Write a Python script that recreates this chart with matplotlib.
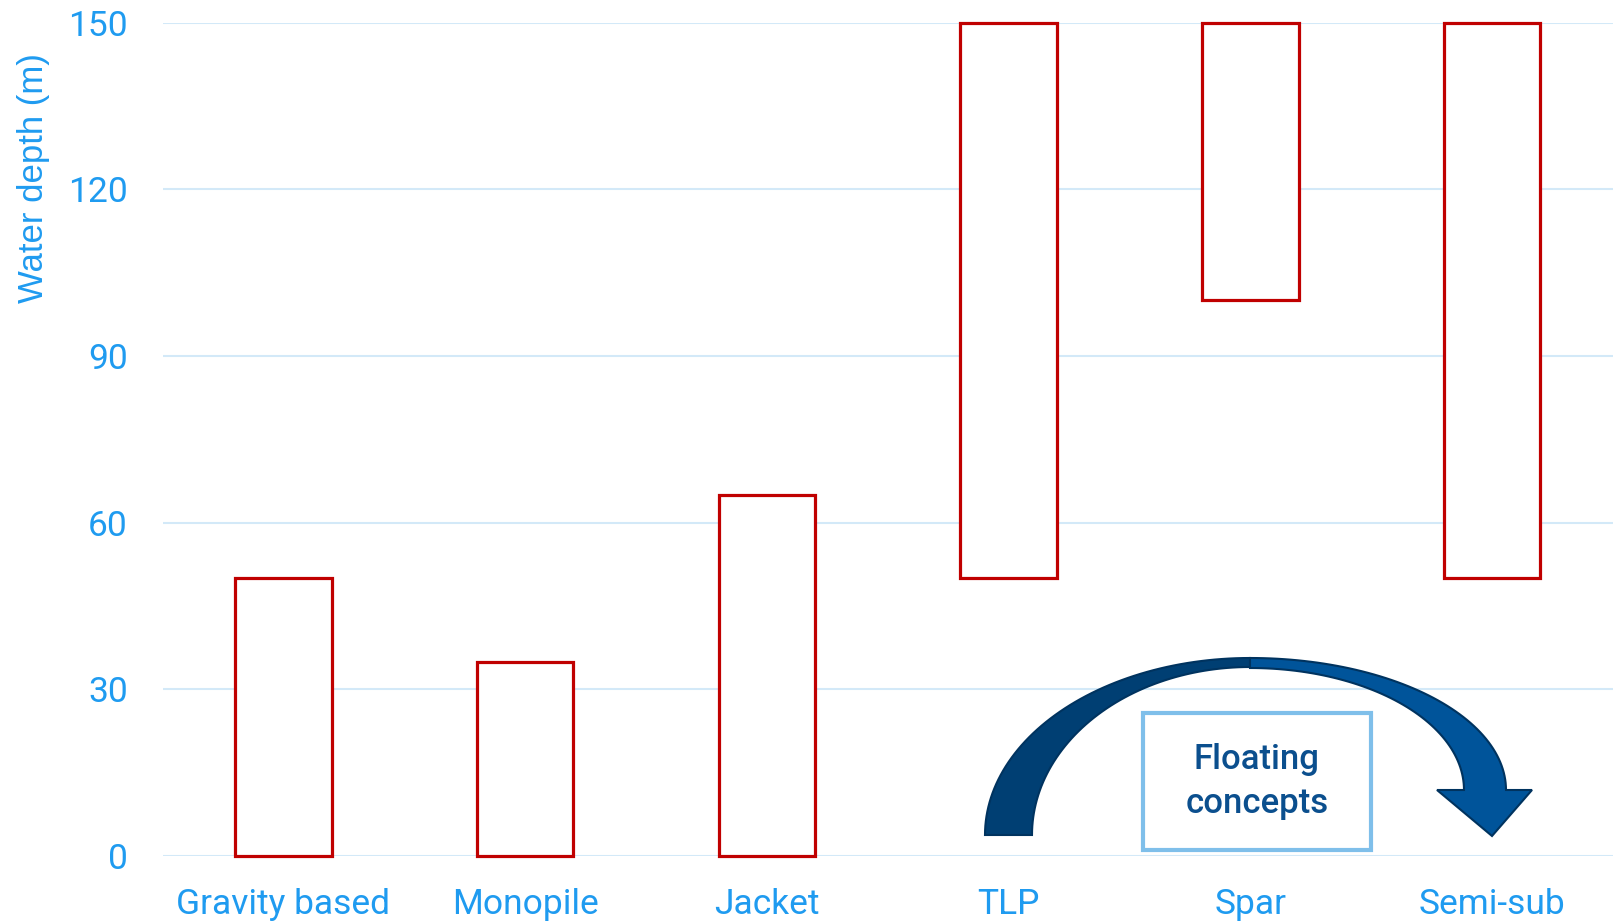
import numpy as np
import matplotlib.pyplot as plt
from matplotlib.patches import Polygon, Rectangle

concepts = ["Gravity based", "Monopile", "Jacket", "TLP", "Spar", "Semi-sub"]
depth_min = [0, 0, 0, 50, 100, 50]
depth_max = [50, 35, 65, 150, 150, 150]
yticks = [0, 30, 60, 90, 120, 150]

W, H = 1613, 922
fig = plt.figure(figsize=(W / 100, H / 100), dpi=100)
ax = fig.add_axes([162.5 / W, 1 - 856 / H, 1 - 162.5 / W, (856 - 22.6) / H])

blue = "#1F9BF0"
x = np.arange(len(concepts))
heights = np.array(depth_max) - np.array(depth_min)
ax.bar(x, heights, bottom=depth_min, width=0.40, facecolor="white",
       edgecolor="#C00000", linewidth=2.3, zorder=3, clip_on=False)

ax.set_xlim(-0.5, len(concepts) - 0.5)
ax.set_ylim(0, 150)
ax.set_yticks(yticks)
ax.set_xticks(x)
ax.set_xticklabels(concepts)
ax.grid(axis="y", color="#D3E9F8", linewidth=1.5, zorder=0)
ax.set_axisbelow(True)
for s in ax.spines.values():
    s.set_visible(False)
ax.tick_params(length=0, labelsize=25.5, labelcolor=blue)
ax.tick_params(axis="x", pad=23)
ax.tick_params(axis="y", pad=25)
for lab in ax.get_xticklabels() + ax.get_yticklabels():
    lab.set_fontfamily("Roboto")
ax.set_ylabel("Water depth (m)", fontsize=25, color=blue,
              fontfamily="Liberation Sans")
ax.yaxis.set_label_coords(-0.0775, 0.813)


# curved arrow, drawn in figure pixel space
def arc(cx, cy, a, b, t0, t1, n=60):
    t = np.linspace(t0, t1, n)
    return np.column_stack([cx + a * np.cos(t), cy - b * np.sin(t)])


left_out = arc(1250, 835, 265, 177, np.pi, np.pi / 2)
left_in = arc(1250, 835, 218, 168, np.pi / 2, np.pi)
right_out = arc(1250, 790, 256, 132, np.pi / 2, 0)
right_in = arc(1250, 790, 214, 122, 0, np.pi / 2)
head = np.array([[1532, 790], [1492, 836], [1437, 790], [1464, 790]])

left_poly = np.vstack([left_out, left_in])
right_poly = np.vstack([right_out, head, right_in])


def to_fig(p):
    return np.column_stack([p[:, 0] / W, 1 - p[:, 1] / H])


fig.add_artist(Polygon(to_fig(left_poly), closed=True, facecolor="#003F73",
                       edgecolor="#00335F", linewidth=1.5, transform=fig.transFigure))
fig.add_artist(Polygon(to_fig(right_poly), closed=True, facecolor="#00549A",
                       edgecolor="#00335F", linewidth=1.5, transform=fig.transFigure))

# text box
bx0, by0, bx1, by1 = 1143, 713, 1371, 850
fig.add_artist(Rectangle((bx0 / W, 1 - by1 / H), (bx1 - bx0) / W, (by1 - by0) / H,
                         facecolor="white", edgecolor="#7FBFEA", linewidth=3,
                         transform=fig.transFigure))
fig.text((bx0 + bx1) / 2 / W, 1 - (by0 + by1) / 2 / H, "Floating\nconcepts",
         ha="center", va="center", fontsize=25, color="#0B4F8E",
         fontfamily="Roboto", fontweight="medium", linespacing=1.45)

fig.savefig("out.png", dpi=100)
